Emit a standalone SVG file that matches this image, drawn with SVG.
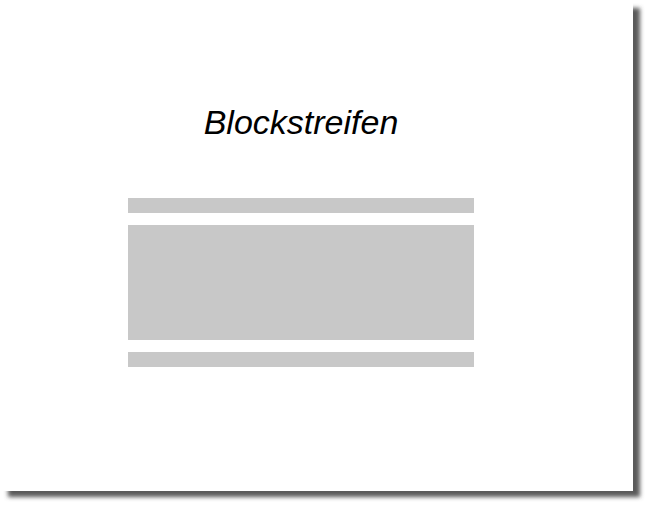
<svg xmlns="http://www.w3.org/2000/svg" width="650" height="506" viewBox="0 0 650 506">
<defs>
<filter id="blur" x="-5%" y="-5%" width="110%" height="110%"><feGaussianBlur stdDeviation="2.2"/></filter>
<style>.bar{fill:#c8c8c8}.t{font-family:"Liberation Sans",Arial,sans-serif;font-style:italic;font-size:34px;fill:#000}</style>
</defs>
<rect width="650" height="506" fill="#fff"/>
<rect x="8" y="8" width="632" height="489" fill="#5a5a5a" filter="url(#blur)"/>
<rect x="0" y="0" width="633" height="491" fill="#fff"/>
<g id="title"><text class="t" x="301" y="134" text-anchor="middle">Blockstreifen</text></g>
<g id="stripe-top"><rect class="bar" x="128" y="198" width="346" height="15"/></g>
<g id="block"><rect class="bar" x="128" y="225" width="346" height="115"/></g>
<g id="stripe-bottom"><rect class="bar" x="128" y="352" width="346" height="15"/></g>
<g id="connectors"/>
</svg>
